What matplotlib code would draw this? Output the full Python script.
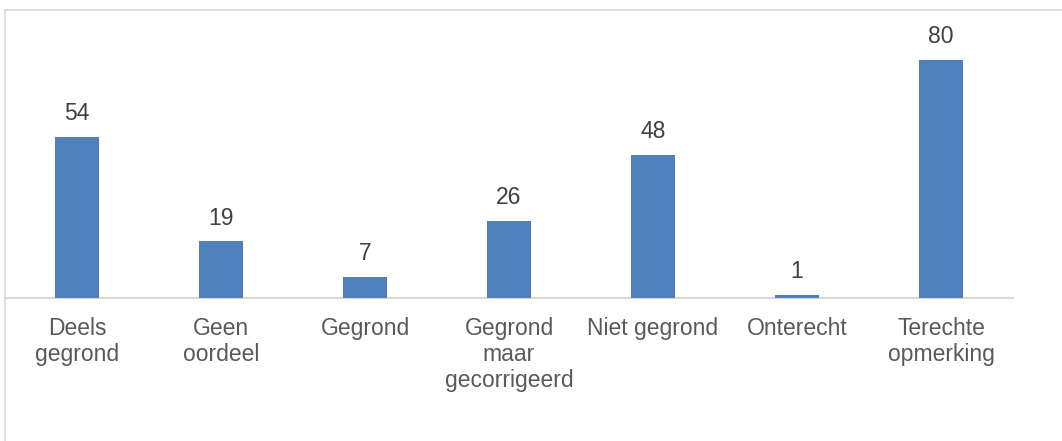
import matplotlib
matplotlib.use("Agg")
import matplotlib.pyplot as plt
from matplotlib.lines import Line2D

categories = ["Deels\ngegrond", "Geen\noordeel", "Gegrond", "Gegrond\nmaar\ngecorrigeerd",
              "Niet gegrond", "Onterecht", "Terechte\nopmerking"]
values = [54, 19, 7, 26, 48, 1, 80]

plt.rcParams["font.family"] = ["Liberation Sans", "DejaVu Sans"]

W, H = 1062, 441
fig = plt.figure(figsize=(W / 100, H / 100), dpi=100)

# axes placement in pixels
left_px, right_px, base_px, top_px = 5, 1013, 298, 30
ax = fig.add_axes([left_px / W, (H - base_px) / H, (right_px - left_px) / W, (base_px - top_px) / H])

x = range(len(categories))
bars = ax.bar(x, values, width=0.31, color="#4F81BD", zorder=3)
ax.set_xlim(-0.5, 6.5)
ax.set_ylim(0, 90)

for xi, v in zip(x, values):
    ax.annotate(str(v), (xi, v), xytext=(0, 8.5), textcoords="offset points",
                ha="center", va="bottom", fontsize=16.5, color="#404040")

ax.set_xticks(list(x))
ax.set_xticklabels(categories, fontsize=16.5, color="#595959", linespacing=1.15, va="top")
ax.tick_params(axis="x", length=0, pad=14)
ax.set_yticks([])
for s in ["top", "left", "right"]:
    ax.spines[s].set_visible(False)
ax.spines["bottom"].set_color("#D9D9D9")
ax.spines["bottom"].set_linewidth(1.5)
ax.set_facecolor("none")

# outer chart frame (top and left edges)
fig.add_artist(Line2D([5 / W, 1.0], [1 - 10 / H, 1 - 10 / H], transform=fig.transFigure,
                      color="#D9D9D9", linewidth=1.2))
fig.add_artist(Line2D([5 / W, 5 / W], [0, 1 - 10 / H], transform=fig.transFigure,
                      color="#D9D9D9", linewidth=1.2))

fig.savefig("out.png", dpi=100)
